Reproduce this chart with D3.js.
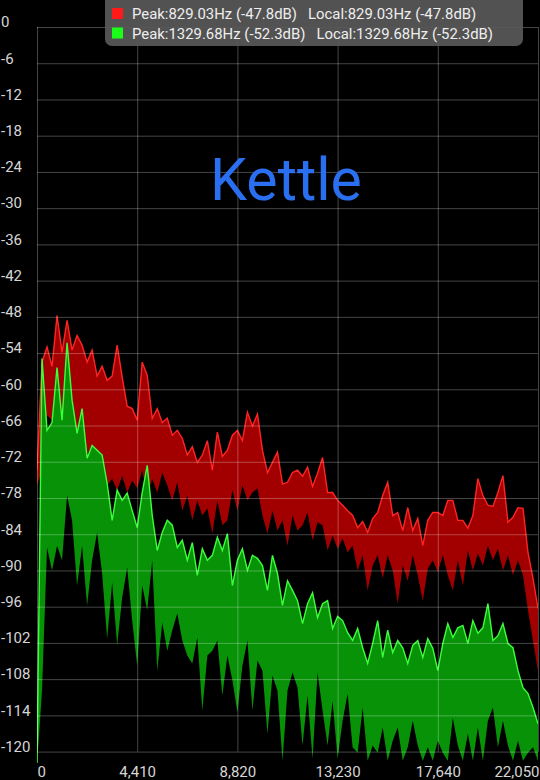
<!DOCTYPE html>
<html>
<head>
<meta charset="utf-8">
<script src="https://cdn.jsdelivr.net/npm/d3@7"></script>
<style>
  html, body { margin: 0; padding: 0; background: #000; }
  svg { display: block; font-family: Roboto, "Noto Sans", sans-serif; }
</style>
</head>
<body>
<script>
// spectrum bins, 220.5 Hz apart (0 .. 22050 Hz)
var binHz = 220.5;

// red trace: peak hold (upper edge) and minimum (lower edge), dB
var redTop = [
  -73.4, -55.5, -53.0, -56.2, -47.8, -53.9, -48.6, -53.5, -51.1, -52.7,
  -55.5, -53.5, -57.8, -56.2, -58.5, -57.8, -52.7, -58.0, -62.8, -63.2,
  -65.1, -55.5, -57.7, -64.8, -63.2, -65.5, -64.8, -67.6, -66.8, -68.1,
  -70.9, -69.5, -72.1, -70.9, -68.5, -73.4, -67.1, -71.1, -70.1, -67.6,
  -66.8, -68.5, -63.8, -66.1, -64.1, -70.1, -73.8, -72.1, -70.4, -75.7,
  -75.4, -73.8, -73.4, -74.4, -72.9, -76.1, -73.9, -71.3, -77.1, -77.1,
  -78.4, -79.2, -80.1, -80.9, -82.9, -81.9, -83.7, -81.4, -80.4, -77.6,
  -75.4, -80.9, -80.4, -83.4, -79.6, -83.4, -81.4, -85.9, -81.7, -80.4,
  -80.4, -80.9, -78.4, -78.4, -81.7, -81.7, -83.0, -80.9, -74.8, -77.6,
  -79.2, -79.4, -77.1, -74.3, -82.0, -81.2, -79.6, -79.7, -87.0, -91.3,
  -96.3
];
var redLow = [
  -75.9, -73.4, -64.3, -65.1, -61.8, -65.1, -66.8, -66.0, -68.5, -70.1,
  -70.9, -69.3, -73.4, -71.8, -75.9, -74.8, -76.7, -74.3, -77.1, -75.1,
  -76.4, -73.4, -77.6, -74.8, -77.1, -73.8, -75.9, -78.4, -75.4, -80.1,
  -77.6, -81.7, -78.4, -80.9, -79.7, -83.9, -78.4, -82.5, -81.7, -76.7,
  -80.1, -75.9, -78.4, -77.1, -76.4, -80.9, -83.9, -80.1, -83.4, -81.7,
  -85.9, -80.9, -83.4, -82.5, -80.4, -85.0, -82.0, -82.5, -86.7, -84.2,
  -86.4, -84.7, -87.0, -85.9, -90.0, -87.5, -93.3, -89.2, -87.5, -91.3,
  -87.5, -90.0, -95.5, -89.2, -91.7, -87.5, -90.8, -95.0, -89.7, -88.3,
  -90.3, -87.5, -90.8, -93.3, -88.3, -92.5, -86.7, -90.0, -87.2, -89.2,
  -85.9, -88.3, -86.4, -90.0, -87.5, -90.8, -88.3, -90.8, -96.6, -101.6,
  -106.6
];

// green trace
var greenTop = [
  -122.3, -54.9, -66.8, -65.5, -56.4, -65.1, -52.3, -61.8, -67.3, -63.2,
  -71.4, -69.3, -70.1, -70.9, -75.6, -81.7, -76.7, -78.4, -77.2, -80.1,
  -82.9, -77.1, -72.6, -80.9, -86.7, -83.7, -81.7, -82.5, -86.2, -85.0,
  -88.3, -85.4, -90.8, -86.4, -88.3, -87.5, -84.5, -86.7, -83.9, -92.5,
  -88.3, -86.4, -90.0, -87.5, -88.0, -89.2, -93.3, -87.5, -90.5, -95.8,
  -91.7, -93.3, -95.0, -98.8, -95.5, -93.7, -97.8, -95.5, -95.0, -99.6,
  -97.6, -98.3, -100.3, -101.6, -99.6, -102.8, -105.4, -102.1, -98.3, -104.4,
  -99.9, -103.6, -101.6, -102.8, -105.4, -102.4, -101.6, -104.4, -101.3, -102.9,
  -106.6, -102.1, -98.8, -101.1, -99.5, -99.1, -102.1, -98.3, -100.4, -99.5,
  -95.5, -101.6, -100.8, -98.8, -102.1, -102.8, -106.6, -109.4, -110.4, -112.7,
  -115.4
];
var greenLow = [
  -122.3, -109.9, -86.2, -90.0, -85.9, -88.3, -77.6, -81.7, -92.5, -85.9,
  -95.8, -88.3, -83.7, -90.5, -101.3, -92.0, -102.4, -94.5, -89.5, -98.3,
  -105.8, -92.5, -96.6, -88.3, -106.6, -98.6, -103.3, -99.9, -97.1, -101.6,
  -104.1, -105.4, -101.1, -113.2, -104.1, -103.3, -101.6, -110.7, -104.1, -108.2,
  -113.5, -105.8, -101.6, -113.2, -104.9, -106.6, -117.0, -107.4, -109.9, -121.5,
  -109.9, -106.9, -109.4, -119.0, -110.7, -121.2, -106.9, -113.2, -119.0, -111.6,
  -121.2, -114.9, -110.4, -119.3, -120.2, -112.7, -121.5, -119.0, -120.2, -116.0,
  -121.5, -118.2, -116.0, -121.5, -119.3, -114.9, -119.0, -121.5, -119.3, -121.5,
  -118.2, -120.2, -121.5, -114.4, -119.0, -121.5, -117.0, -121.5, -116.0, -121.5,
  -114.9, -112.7, -119.3, -114.9, -119.0, -121.5, -118.2, -121.5, -120.2, -119.3,
  -121.5
];

var xTicks = [0, 4410, 8820, 13230, 17640, 22050];
var yTicks = d3.range(0, -121, -6);

var legendPeak = ["Peak:829.03Hz (-47.8dB)", "Peak:1329.68Hz (-52.3dB)"];
var legendLocal = ["Local:829.03Hz (-47.8dB)", "Local:1329.68Hz (-52.3dB)"];
var legendColors = ["#ff1a1a", "#1aff1a"];
var title = "Kettle";

var w = 540;
var h = 780;
// plot box (note: "top" is a reserved window name, so pad* instead)
var padL = 37, padR = 538, padT = 27, padB = 751.6, padFloor = 763;

var xScale = d3.scaleLinear().domain([0, 22050]).range([padL, padR]);
var yScale = d3.scaleLinear().domain([0, -120]).range([padT, padB]);

var svg = d3.select("body")
  .append("svg")
  .attr("width", w)
  .attr("height", h);

svg.append("rect").attr("width", w).attr("height", h).attr("fill", "#000");

svg.append("defs").append("clipPath").attr("id", "plot")
  .append("rect")
  .attr("x", padL).attr("y", padT)
  .attr("width", padR - padL).attr("height", padFloor - padT);

function band(hi, lo) {
  return d3.area()
    .x(function(d, i) { return xScale(i * binHz); })
    .y0(function(d, i) { return yScale(lo[i]); })
    .y1(function(d, i) { return yScale(hi[i]); })(hi);
}
function trace(vals) {
  return d3.line()
    .x(function(d, i) { return xScale(i * binHz); })
    .y(function(d) { return yScale(d); })(vals);
}

var plot = svg.append("g").attr("clip-path", "url(#plot)");
plot.append("path").attr("d", band(redTop, redLow)).attr("fill", "#a20000");
plot.append("path").attr("d", band(greenTop, greenLow)).attr("fill", "#089208");

// grid + labels
var gridColor = "rgba(255,255,255,0.27)";

var yAxis = d3.axisLeft(yScale)
  .tickValues(yTicks)
  .tickSize(-(padR - padL))
  .tickFormat(function(d) { return String(d); });

svg.append("g")
  .attr("transform", "translate(" + padL + ",0)")
  .call(yAxis)
  .call(function(g) {
    g.select(".domain").remove();
    g.selectAll(".tick line").attr("stroke", gridColor);
    g.selectAll(".tick text")
      .attr("x", 1 - padL)
      .attr("y", -5)
      .attr("text-anchor", "start")
      .attr("fill", "#d6d6d6")
      .attr("font-size", 15)
      .attr("font-family", "Roboto, sans-serif");
  });

var xAxis = d3.axisBottom(xScale)
  .tickValues(xTicks)
  .tickSize(-(padB - padT))
  .tickFormat(d3.format(","));

svg.append("g")
  .attr("transform", "translate(0," + padB + ")")
  .call(xAxis)
  .call(function(g) {
    g.select(".domain").remove();
    g.selectAll(".tick line").attr("stroke", gridColor);
    g.selectAll(".tick text")
      .attr("y", 25.6)
      .attr("dy", 0)
      .attr("fill", "#d6d6d6")
      .attr("font-size", 15)
      .attr("font-family", "Roboto, sans-serif")
      .attr("text-anchor", function(d, i) {
        return i == 0 ? "start" : (i == xTicks.length - 1 ? "end" : "middle");
      })
      .attr("dx", function(d, i) {
        return i == xTicks.length - 1 ? 1 : 0;
      });
  });

plot.append("path").attr("d", trace(redTop))
  .attr("fill", "none").attr("stroke", "#ff2424").attr("stroke-width", 1.4);
plot.append("path").attr("d", trace(greenTop))
  .attr("fill", "none").attr("stroke", "#3cff3c").attr("stroke-width", 1.4);

svg.append("text")
  .attr("x", 286)
  .attr("y", 200)
  .attr("text-anchor", "middle")
  .attr("font-size", 59)
  .attr("fill", "#2a6ff0")
  .text(title);

// legend box
var legend = svg.append("g");
legend.append("rect")
  .attr("x", 105).attr("y", -6)
  .attr("width", 418).attr("height", 52)
  .attr("rx", 7)
  .attr("fill", "rgba(88,88,88,0.93)");

legendPeak.forEach(function(txt, i) {
  var yy = 19 + i * 19.5;
  legend.append("rect")
    .attr("x", 112).attr("y", yy - 11)
    .attr("width", 11).attr("height", 11)
    .attr("fill", legendColors[i]);
  var t = legend.append("text")
    .attr("x", 132).attr("y", yy)
    .attr("font-size", 14.9)
    .attr("fill", "#eeeeee")
    .text(txt);
  var len = t.node().getComputedTextLength();
  legend.append("text")
    .attr("x", 132 + len + 11).attr("y", yy)
    .attr("font-size", 14.9)
    .attr("fill", "#eeeeee")
    .text(legendLocal[i]);
});
</script>
</body>
</html>
